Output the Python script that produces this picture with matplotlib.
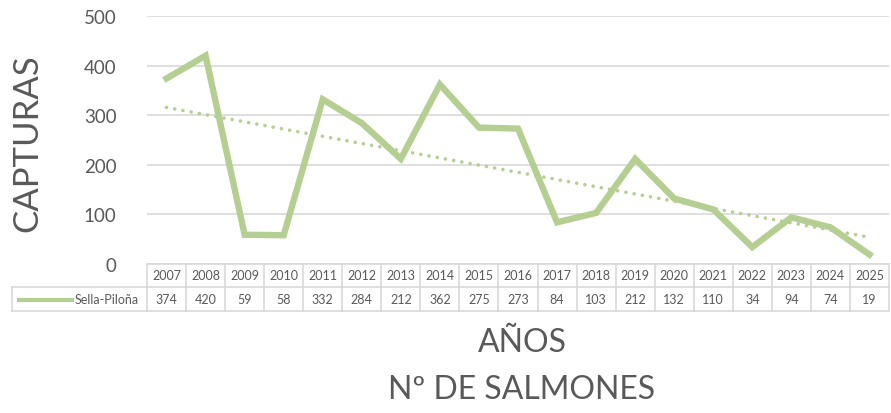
import numpy as np
import matplotlib.pyplot as plt
import matplotlib.transforms as mtransforms

# datos
years = ['2007', '2008', '2009', '2010', '2011', '2012', '2013', '2014', '2015', '2016',
         '2017', '2018', '2019', '2020', '2021', '2022', '2023', '2024', '2025']
capturas = [374, 420, 59, 58, 332, 284, 212, 362, 275, 273, 84, 103, 212, 132, 110, 34, 94, 74, 19]
serie = 'Sella-Piloña'
y_ticks = [0, 100, 200, 300, 400, 500]

verde = '#b5cf92'
gris_txt = '#595959'
gris_lin = '#d9d9d9'

plt.rcParams['font.family'] = ['Lato', 'DejaVu Sans']

fig = plt.figure(figsize=(8.91, 4.14), dpi=100)
ax = fig.add_axes([147/891, 1 - 265/414, 742/891, 248/414])

x = np.arange(len(years))
ax.plot(x, capturas, color=verde, lw=4.6, solid_joinstyle='miter', zorder=3)

# linea de tendencia lineal
coef = np.polyfit(x, capturas, 1)
ax.plot(x, np.polyval(coef, x), color=verde, lw=2.6, ls=(0, (0.01, 2.3)),
        dash_capstyle='round', zorder=2)

ax.set_xlim(-0.5, len(years) - 0.5)
ax.set_ylim(0, 500)
ax.set_yticks(y_ticks)
ax.set_xticks([])
ax.tick_params(axis='y', length=0, labelsize=13.5, labelcolor=gris_txt, pad=22)
ax.grid(axis='y', color=gris_lin, lw=1.2)
ax.set_axisbelow(True)
for s in ax.spines.values():
    s.set_visible(False)

# tabla de datos
tr = mtransforms.blended_transform_factory(ax.transData, ax.transAxes)
r1 = -23/248
r2 = -47/248
xl = -135/742
kw = dict(color=gris_lin, lw=1.2, clip_on=False)
ax.plot([-0.5, len(years) - 0.5], [0, 0], transform=tr, **kw)
ax.plot([xl, 1], [r1, r1], transform=ax.transAxes, **kw)
ax.plot([xl, 1], [r2, r2], transform=ax.transAxes, **kw)
ax.plot([xl, xl], [r1, r2], transform=ax.transAxes, **kw)
for i in range(len(years) + 1):
    ax.plot([i - 0.5, i - 0.5], [0, r2], transform=tr, **kw)
for i, (yr, v) in enumerate(zip(years, capturas)):
    ax.text(i, r1 / 2, yr, transform=tr, ha='center', va='center', fontsize=9, color=gris_txt)
    ax.text(i, (r1 + r2) / 2, str(v), transform=tr, ha='center', va='center', fontsize=9, color=gris_txt)

# leyenda en la tabla
fig.add_artist(plt.Line2D([19/891, 72/891], [1 - 301/414, 1 - 301/414], color=verde, lw=3))
fig.text(139/891, 1 - 300/414, serie, ha='right', va='center', fontsize=9, color=gris_txt)

# titulos
fig.text(27/891, 1 - 143/414, 'CAPTURAS', rotation=90, ha='center', va='center',
         fontsize=25, color=gris_txt)
fig.text(522/891, 1 - 343/414, 'AÑOS', ha='center', va='center', fontsize=23, color=gris_txt)
fig.text(522/891, 1 - 390/414, 'Nº DE SALMONES', ha='center', va='center', fontsize=23, color=gris_txt)

fig.savefig('out.png', dpi=100)
